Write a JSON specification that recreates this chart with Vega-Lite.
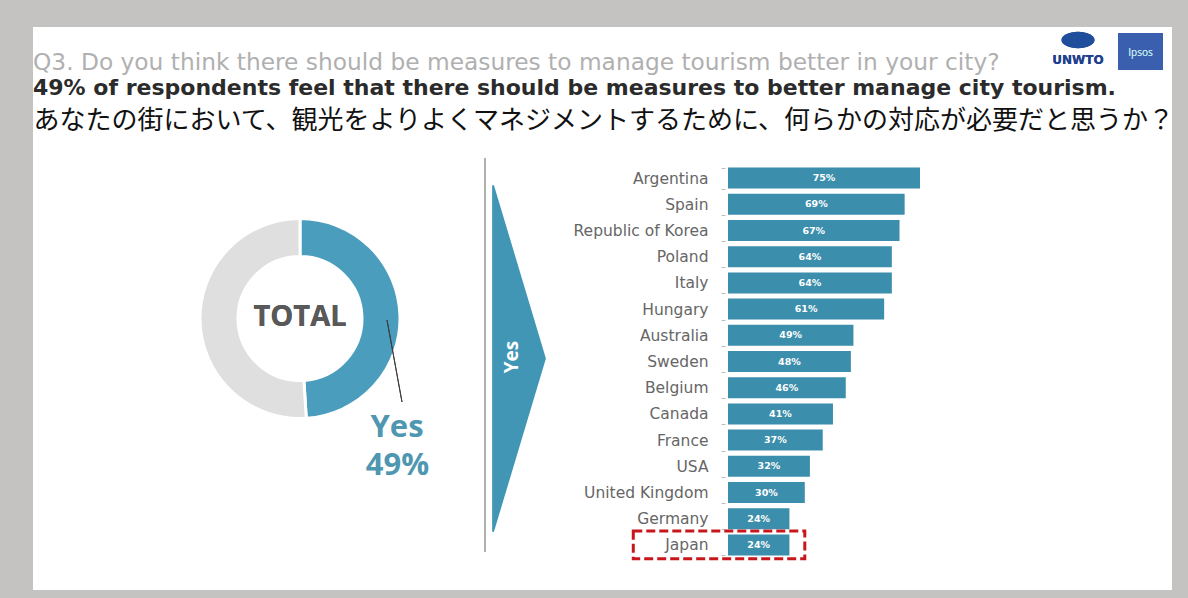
{
  "$schema": "https://vega.github.io/schema/vega-lite/v6.json",
  "width": 1139,
  "height": 563,
  "autosize": {"type": "none"},
  "padding": {"left": 33, "top": 27, "right": 16, "bottom": 8},
  "background": "#c4c3c1",
  "config": {"view": {"fill": "white", "stroke": null}, "font": "Open Sans"},
  "title": {
    "text": "Q3. Do you think there should be measures to manage tourism better in your city?",
    "subtitle": "49% of respondents feel that there should be measures to better manage city tourism.",
    "anchor": "start",
    "frame": "group",
    "offset": -80,
    "font": "DejaVu Sans",
    "fontSize": 23.3,
    "fontWeight": "normal",
    "color": "#b0b0b0",
    "subtitleFont": "DejaVu Sans",
    "subtitleFontSize": 22,
    "subtitleFontWeight": "bold",
    "subtitleColor": "#2b2b2b",
    "subtitlePadding": 3
  },
  "datasets": {
    "countries": [
      {"country": "Argentina", "yes": 0.75},
      {"country": "Spain", "yes": 0.69},
      {"country": "Republic of Korea", "yes": 0.67},
      {"country": "Poland", "yes": 0.64},
      {"country": "Italy", "yes": 0.64},
      {"country": "Hungary", "yes": 0.61},
      {"country": "Australia", "yes": 0.49},
      {"country": "Sweden", "yes": 0.48},
      {"country": "Belgium", "yes": 0.46},
      {"country": "Canada", "yes": 0.41},
      {"country": "France", "yes": 0.37},
      {"country": "USA", "yes": 0.32},
      {"country": "United Kingdom", "yes": 0.30},
      {"country": "Germany", "yes": 0.24},
      {"country": "Japan", "yes": 0.24}
    ],
    "total": [
      {"answer": "Yes", "share": 0.49},
      {"answer": "No", "share": 0.51}
    ]
  },
  "layer": [
    {
      "data": {"name": "countries"},
      "encoding": {
        "y": {
          "field": "country",
          "type": "nominal",
          "scale": {
            "domain": ["Argentina", "Spain", "Republic of Korea", "Poland", "Italy", "Hungary", "Australia", "Sweden", "Belgium", "Canada", "France", "USA", "United Kingdom", "Germany", "Japan"],
            "range": [138, 531],
            "paddingInner": 0.2,
            "paddingOuter": 0.1
          },
          "axis": {
            "orient": "left",
            "offset": -692,
            "title": null,
            "domain": false,
            "grid": false,
            "ticks": true,
            "tickBand": "extent",
            "tickSize": 4,
            "tickColor": "#bdbdbd",
            "labelPadding": 13,
            "labelFont": "DejaVu Sans",
            "labelFontSize": 15.5,
            "labelColor": "#666666"
          }
        }
      },
      "layer": [
        {
          "mark": {"type": "bar", "color": "#3b8eac"},
          "encoding": {
            "x": {
              "field": "yes",
              "type": "quantitative",
              "scale": {"domain": [0, 1], "range": [695, 951], "nice": false, "zero": false},
              "axis": {
                "orient": "top",
                "labels": false,
                "ticks": false,
                "domain": false,
                "grid": false,
                "title": "あなたの街において、観光をよりよくマネジメントするために、何らかの対応が必要だと思うか？",
                "titleFont": "Noto Sans CJK JP",
                "titleFontSize": 26,
                "titleFontWeight": "normal",
                "titleColor": "#111111",
                "titleX": 0,
                "titleY": 93,
                "titleAlign": "left",
                "titleBaseline": "middle",
                "titleAngle": 0
              }
            }
          }
        },
        {
          "transform": [{"filter": "datum.country === 'Japan'"}],
          "mark": {"type": "bar", "filled": false, "stroke": "#c8161d", "strokeWidth": 3, "strokeDash": [9, 4], "height": {"band": 1.33}},
          "encoding": {
            "x": {"datum": -0.37, "type": "quantitative"},
            "x2": {"datum": 0.30}
          }
        }
      ]
    },
    {
      "data": {"name": "countries"},
      "mark": {"type": "text", "color": "white", "font": "DejaVu Sans", "fontWeight": "bold", "fontSize": 9.5, "align": "center", "baseline": "middle"},
      "encoding": {
        "y": {
          "field": "country",
          "type": "nominal",
          "scale": {
            "domain": ["Argentina", "Spain", "Republic of Korea", "Poland", "Italy", "Hungary", "Australia", "Sweden", "Belgium", "Canada", "France", "USA", "United Kingdom", "Germany", "Japan"],
            "range": [138, 531],
            "paddingInner": 0.2,
            "paddingOuter": 0.1
          },
          "axis": null
        },
        "x": {
          "field": "yes",
          "type": "quantitative",
          "scale": {"domain": [0, 1], "range": [695, 823], "nice": false, "zero": false},
          "axis": null
        },
        "text": {"field": "yes", "format": ".0%"}
      }
    },
    {
      "data": {"name": "total"},
      "layer": [
        {
          "mark": {"type": "arc", "radius": 100, "innerRadius": 62, "stroke": "white", "strokeWidth": 3},
          "encoding": {
            "x": {"datum": 267, "type": "quantitative", "scale": {"domain": [0, 1139], "range": [0, 1139], "nice": false, "zero": false}, "axis": null},
            "y": {"datum": 291.5, "type": "quantitative", "scale": {"domain": [0, 563], "range": [0, 563], "nice": false, "zero": false}, "axis": null},
            "theta": {"field": "share", "type": "quantitative", "stack": true},
            "order": {"field": "answer", "sort": "descending"},
            "color": {"field": "answer", "type": "nominal", "scale": {"domain": ["Yes", "No"], "range": ["#4a9dbd", "#dfdfdf"]}, "legend": null}
          }
        },
        {
          "mark": {"type": "rule", "color": "#b0b0b0", "strokeWidth": 2},
          "encoding": {
            "x": {"datum": 452, "type": "quantitative"},
            "y": {"datum": 131, "type": "quantitative"},
            "y2": {"datum": 525}
          }
        },
        {
          "mark": {"type": "rule", "color": "#3d3d3d", "strokeWidth": 1},
          "encoding": {
            "x": {"datum": 354, "type": "quantitative"},
            "y": {"datum": 293, "type": "quantitative"},
            "x2": {"datum": 369},
            "y2": {"datum": 375}
          }
        },
        {
          "mark": {"type": "text", "text": "TOTAL", "font": "Open Sans", "fontWeight": "bold", "fontSize": 29, "color": "#595959", "align": "center", "baseline": "middle"},
          "encoding": {
            "x": {"datum": 267, "type": "quantitative"},
            "y": {"datum": 290, "type": "quantitative"}
          }
        },
        {
          "mark": {"type": "point", "shape": "M -1 0 A 1 0.5 0 1 0 1 0 A 1 0.5 0 1 0 -1 0 Z", "size": 1089, "filled": true, "color": "#1f4f9c", "opacity": 1},
          "encoding": {
            "x": {"datum": 1045, "type": "quantitative"},
            "y": {"datum": 13, "type": "quantitative"}
          }
        },
        {
          "mark": {"type": "text", "text": "UNWTO", "font": "DejaVu Sans", "fontWeight": "bold", "fontSize": 12, "color": "#1f3f8f", "align": "center", "baseline": "middle"},
          "encoding": {
            "x": {"datum": 1045, "type": "quantitative"},
            "y": {"datum": 33, "type": "quantitative"}
          }
        },
        {
          "mark": {"type": "point", "shape": "M -1 -0.82 L 1 -0.82 L 1 0.82 L -1 0.82 Z", "size": 2025, "filled": true, "color": "#3a5fae", "opacity": 1},
          "encoding": {
            "x": {"datum": 1107.5, "type": "quantitative"},
            "y": {"datum": 24.5, "type": "quantitative"}
          }
        },
        {
          "mark": {"type": "text", "text": "Ipsos", "font": "Open Sans", "fontSize": 10, "color": "#bfe3ea", "align": "center", "baseline": "middle"},
          "encoding": {
            "x": {"datum": 1107.5, "type": "quantitative"},
            "y": {"datum": 26, "type": "quantitative"}
          }
        },
        {
          "transform": [{"filter": "datum.answer === 'Yes'"}],
          "layer": [
            {
              "mark": {"type": "text", "font": "Open Sans", "fontWeight": "bold", "fontSize": 31, "color": "#4f97b1", "align": "center", "baseline": "middle"},
              "encoding": {
                "x": {"datum": 364, "type": "quantitative"},
                "y": {"datum": 401, "type": "quantitative"},
                "text": {"field": "answer"}
              }
            },
            {
              "mark": {"type": "text", "font": "Open Sans", "fontWeight": "bold", "fontSize": 31, "color": "#4f97b1", "align": "center", "baseline": "middle"},
              "encoding": {
                "x": {"datum": 364.5, "type": "quantitative"},
                "y": {"datum": 439, "type": "quantitative"},
                "text": {"field": "share", "format": ".0%"}
              }
            },
            {
              "mark": {"type": "point", "shape": "M -0.15 -1 L 0.15 0 L -0.15 1 Z", "size": 119025, "filled": true, "color": "#4196b5", "opacity": 1, "stroke": "#4196b5", "strokeWidth": 2, "strokeJoin": "round"},
              "encoding": {
                "x": {"datum": 486, "type": "quantitative"},
                "y": {"datum": 331.5, "type": "quantitative"}
              }
            },
            {
              "mark": {"type": "text", "font": "Open Sans", "fontWeight": "bold", "fontSize": 19, "color": "white", "angle": 270, "align": "center", "baseline": "middle"},
              "encoding": {
                "x": {"datum": 479, "type": "quantitative"},
                "y": {"datum": 330, "type": "quantitative"},
                "text": {"field": "answer"}
              }
            }
          ]
        }
      ]
    }
  ],
  "resolve": {"scale": {"x": "independent", "y": "independent"}}
}
